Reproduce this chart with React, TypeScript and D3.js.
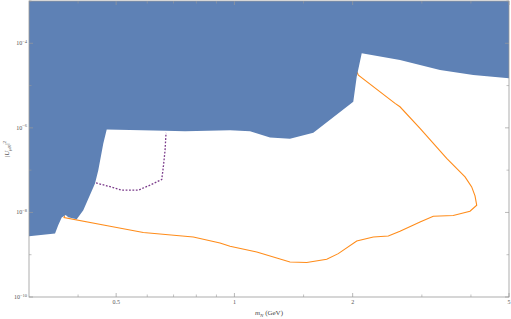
import React from "react";
import * as d3 from "d3";

// Excluded region (upper boundary of allowed region), [m_N GeV, |U|^2]
const excludedBoundary: [number, number][] = [
  [0.3, 2.73e-9], [0.3495, 3.16e-9], [0.356, 4.98e-9], [0.3634, 7.57e-9],
  [0.372, 8.73e-9], [0.3777, 7.69e-9], [0.3968, 6.9e-9], [0.4124, 1.13e-8],
  [0.4417, 4.83e-8], [0.4503, 9.97e-8], [0.4637, 4.27e-7], [0.4731, 9.18e-7],
  [0.666, 8.5e-7], [0.7485, 8.36e-7], [0.9745, 8.83e-7], [1.096, 8.36e-7],
  [1.232, 5.93e-7], [1.385, 5.49e-7], [1.588, 7.62e-7], [2.007, 4.13e-6],
  [2.048, 1.61e-5], [2.109, 5.78e-5], [2.639, 4.01e-5], [3.337, 2.32e-5],
  [4.055, 1.77e-5], [5.0, 1.48e-5],
];

// Orange sensitivity contour
const orangeContour: [number, number][] = [
  [0.37, 8.4e-9], [0.3684, 7.57e-9], [0.4825, 4.71e-9], [0.5862, 3.34e-9],
  [0.786, 2.63e-9], [0.919, 1.9e-9], [0.9745, 1.58e-9], [1.14, 1.16e-9],
  [1.385, 6.74e-10], [1.528, 6.52e-10], [1.718, 7.8e-10], [1.838, 1.06e-9],
  [2.048, 2.11e-9], [2.257, 2.63e-9], [2.465, 2.76e-9], [2.639, 3.59e-9],
  [2.968, 5.96e-9], [3.208, 8.13e-9], [3.606, 8.45e-9], [3.978, 1.07e-8],
  [4.138, 1.48e-8], [4.097, 2.46e-8], [4.018, 4.02e-8], [3.864, 6.92e-8],
  [3.47, 1.89e-7], [2.968, 9.69e-7], [2.639, 3.15e-6], [2.564, 3.79e-6],
  [2.068, 1.77e-5], [2.04, 2.3e-5],
];

// Purple dotted contour
const purpleContour: [number, number][] = [
  [0.4444, 4.99e-8], [0.4776, 4.17e-8], [0.5166, 3.36e-8], [0.5693, 3.36e-8],
  [0.6097, 4.41e-8], [0.6531, 6.01e-8], [0.6593, 1.19e-7], [0.666, 2.97e-7],
  [0.6698, 7.62e-7],
];

const xMajor = [0.5, 1, 2, 5];
const xMajorLabels = ["0.5", "1", "2", "5"];
const xMinor = [0.4, 0.6, 0.7, 0.8, 0.9, 1.5, 3, 4];
const yMajorExp = [-10, -8, -6, -4];
const yMinorExp = [-9, -7, -5, -3];

const W = 511, H = 319;
const L = 29, R = 509, T = 1, B = 297;

export default function App() {
  const x = d3.scaleLog().domain([0.3, 5]).range([L, R]);
  const y = d3.scaleLog().domain([1e-10, 1e-3]).range([B, T]);
  const line = d3.line<[number, number]>().x(d => x(d[0])).y(d => y(d[1]));
  const blue = [...excludedBoundary, [5, 1e-3], [0.3, 1e-3]] as [number, number][];
  const tickCol = "#9a9a9a";
  const font = "Liberation Serif, DejaVu Serif, serif";
  return (
    <svg width={W} height={H} style={{ position: "absolute", left: 0, top: 0, background: "#fff" }}>
      <defs>
        <clipPath id="plot"><rect x={L} y={T} width={R - L} height={B - T} /></clipPath>
      </defs>
      <g clipPath="url(#plot)">
        <path d={line(orangeContour) || ""} fill="none" stroke="#FF8C1A" strokeWidth={1.1} />
        <path d={(line(blue) || "") + "Z"} fill="#5E81B5" stroke="none" />
        <path d={line(purpleContour) || ""} fill="none" stroke="#7A3A8A" strokeWidth={1.3}
          strokeDasharray="1.8,1.6" />
      </g>
      {/* frame */}
      <rect x={L} y={T} width={R - L} height={B - T} fill="none" stroke={tickCol} strokeWidth={0.8} />
      {xMajor.map((v, i) => (
        <g key={"xm" + i}>
          <line x1={x(v)} x2={x(v)} y1={B} y2={B - 4} stroke={tickCol} strokeWidth={0.7} />
          <line x1={x(v)} x2={x(v)} y1={T} y2={T + 4} stroke={tickCol} strokeWidth={0.7} />
          <text x={x(v)} y={B + 7} fontSize={6} fontFamily={font} textAnchor="middle" fill="#555">{xMajorLabels[i]}</text>
        </g>
      ))}
      {xMinor.map((v, i) => (
        <g key={"xn" + i}>
          <line x1={x(v)} x2={x(v)} y1={B} y2={B - 2.5} stroke={tickCol} strokeWidth={0.6} />
          <line x1={x(v)} x2={x(v)} y1={T} y2={T + 2.5} stroke={tickCol} strokeWidth={0.6} />
        </g>
      ))}
      {yMajorExp.map((e, i) => (
        <g key={"ym" + i}>
          <line x1={L} x2={L + 4} y1={y(Math.pow(10, e))} y2={y(Math.pow(10, e))} stroke={tickCol} strokeWidth={0.7} />
          <line x1={R} x2={R - 4} y1={y(Math.pow(10, e))} y2={y(Math.pow(10, e))} stroke={tickCol} strokeWidth={0.7} />
          <text x={27} y={y(Math.pow(10, e)) + 2} fontSize={6} fontFamily={font} textAnchor="end" fill="#555">
            10<tspan fontSize={4.5} dy={-2.5}>{"\u2212" + Math.abs(e)}</tspan>
          </text>
        </g>
      ))}
      {yMinorExp.map((e, i) => (
        <g key={"yn" + i}>
          <line x1={L} x2={L + 2.5} y1={y(Math.pow(10, e))} y2={y(Math.pow(10, e))} stroke={tickCol} strokeWidth={0.6} />
          <line x1={R} x2={R - 2.5} y1={y(Math.pow(10, e))} y2={y(Math.pow(10, e))} stroke={tickCol} strokeWidth={0.6} />
        </g>
      ))}
      <text x={(L + R) / 2} y={315} fontSize={7} fontFamily={font} textAnchor="middle" fill="#444">
        <tspan fontStyle="italic">m</tspan><tspan fontSize={5} dy={1.5} fontStyle="italic">N</tspan>
        <tspan dy={-1.5}>{" (GeV)"}</tspan>
      </text>
      <text transform={`translate(9,${(T + B) / 2}) rotate(-90)`} fontSize={7} fontFamily={font} textAnchor="middle" fill="#444">
        |<tspan fontStyle="italic">U</tspan><tspan fontSize={5} dy={1.5} fontStyle="italic">{"\u03bcN"}</tspan>
        <tspan dy={-1.5}>|</tspan><tspan fontSize={5} dy={-3}>2</tspan>
      </text>
    </svg>
  );
}
